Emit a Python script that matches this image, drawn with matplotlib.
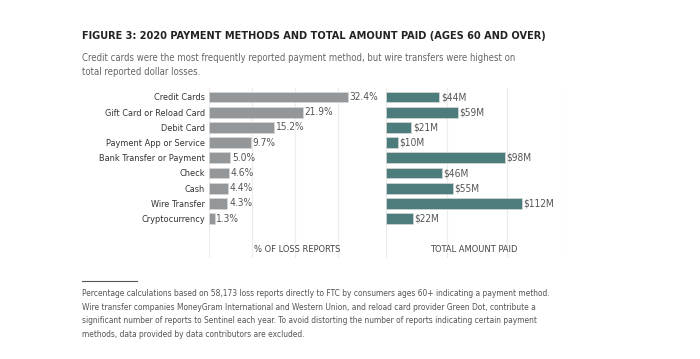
import matplotlib
matplotlib.use("Agg")
import matplotlib.pyplot as plt

plt.rcParams['font.family'] = ['DejaVu Sans']
plt.rcParams['font.stretch'] = 'condensed'

# 数据
methods = ['Credit Cards', 'Gift Card or Reload Card', 'Debit Card', 'Payment App or Service',
           'Bank Transfer or Payment', 'Check', 'Cash', 'Wire Transfer', 'Cryptocurrency']
pct_reports = [32.4, 21.9, 15.2, 9.7, 5.0, 4.6, 4.4, 4.3, 1.3]
amount_paid = [44, 59, 21, 10, 98, 46, 55, 112, 22]

W, H = 700, 359
fig = plt.figure(figsize=(7, 3.59), dpi=100)
fig.patch.set_facecolor('white')

grey = '#939799'
teal = '#4c7c7b'
grid_c = '#ececec'

y_pos = list(range(len(methods)))
top_px, bot_px = 88, 258
row0, step = 97, 15.2
ylim = ((bot_px - row0) / step, (top_px - row0) / step)


def px_axes(x0, x1):
    return fig.add_axes([x0 / W, 1 - bot_px / H, (x1 - x0) / W, (bot_px - top_px) / H])


# 左图：报告占比
ax1 = px_axes(209, 387)
ax1.barh(y_pos, pct_reports, height=0.72, color=grey, edgecolor='#d8d8d8', linewidth=0.5, zorder=3)
ax1.set_xlim(0, 178 / 4.29)
ax1.set_ylim(*ylim)
ax1.set_yticks(y_pos)
ax1.set_yticklabels(methods, fontsize=6.6, color='#333333')
ax1.set_xticks([0, 10, 20, 30])
ax1.tick_params(length=0, pad=3, labelbottom=False)
ax1.grid(axis='x', color=grid_c, linewidth=0.8, zorder=0)
for s in ax1.spines.values():
    s.set_visible(False)
ax1.axvline(ax1.get_xlim()[1], color=grid_c, linewidth=0.8)
for y, v in zip(y_pos, pct_reports):
    ax1.text(v + 0.4, y, f'{v:.1f}%', va='center', ha='left', fontsize=7.3, color='#555555')

# 右图：损失金额
ax2 = px_axes(386, 563)
ax2.barh(y_pos, amount_paid, height=0.72, color=teal, edgecolor='#d8d8d8', linewidth=0.5, zorder=3)
ax2.set_xlim(0, 177 / 1.214)
ax2.set_ylim(*ylim)
ax2.set_yticks([])
ax2.set_xticks([0, 50, 100])
ax2.tick_params(length=0, labelbottom=False)
ax2.grid(axis='x', color=grid_c, linewidth=0.8, zorder=0)
for s in ax2.spines.values():
    s.set_visible(False)
ax2.axvline(ax2.get_xlim()[1], color=grid_c, linewidth=0.8)
for y, v in zip(y_pos, amount_paid):
    ax2.text(v + 1.2, y, f'${v}M', va='center', ha='left', fontsize=7.3, color='#555555')

# 轴标题
fig.text(297 / W, 1 - 249 / H, '% OF LOSS REPORTS', ha='center', va='center', fontsize=6.7, color='#444444')
fig.text(474 / W, 1 - 249 / H, 'TOTAL AMOUNT PAID', ha='center', va='center', fontsize=6.7, color='#444444')

# 标题
fig.text(82 / W, 1 - 36 / H, 'FIGURE 3: 2020 PAYMENT METHODS AND TOTAL AMOUNT PAID (AGES 60 AND OVER)',
         ha='left', va='center', fontsize=7.8, fontweight='bold', color='#222222')
fig.text(82 / W, 1 - 65 / H,
         'Credit cards were the most frequently reported payment method, but wire transfers were highest on\n'
         'total reported dollar losses.',
         ha='left', va='center', fontsize=6.85, color='#666666', linespacing=1.5)

# 脚注
fig.add_artist(plt.Line2D([82 / W, 137 / W], [1 - 281 / H, 1 - 281 / H], color='#555555', linewidth=0.8))
fig.text(82 / W, 1 - 314 / H,
         'Percentage calculations based on 58,173 loss reports directly to FTC by consumers ages 60+ indicating a payment method.\n'
         'Wire transfer companies MoneyGram International and Western Union, and reload card provider Green Dot, contribute a\n'
         'significant number of reports to Sentinel each year. To avoid distorting the number of reports indicating certain payment\n'
         'methods, data provided by data contributors are excluded.',
         ha='left', va='center', fontsize=6.05, color='#555555', linespacing=1.66)

fig.savefig('out.png', dpi=100)
